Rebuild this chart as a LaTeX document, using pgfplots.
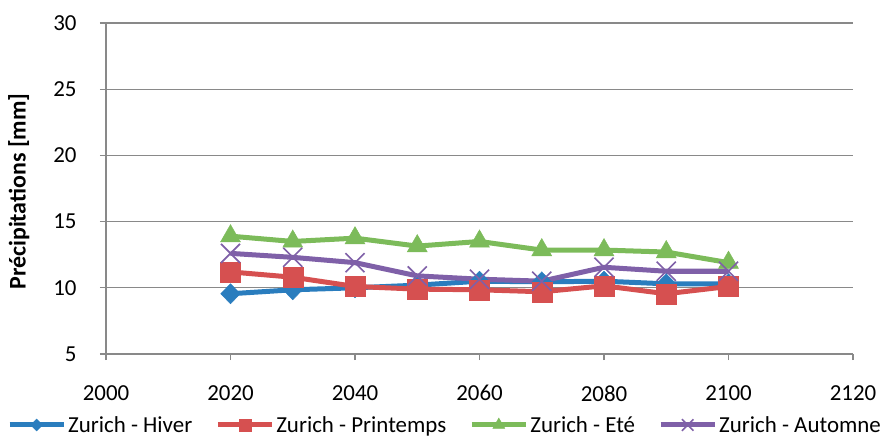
\documentclass[border=0pt]{standalone}
\usepackage{pgfplots}
\pgfplotsset{compat=1.18}
\usepackage{fontspec}
\setmainfont{Carlito}
\definecolor{cblue}{HTML}{2A7DBE}
\definecolor{cred}{HTML}{D65050}
\definecolor{cgreen}{HTML}{7CBB5A}
\definecolor{cpurple}{HTML}{7F60A8}
\definecolor{cgrid}{HTML}{898989}
\begin{document}
\begin{tikzpicture}[x=1bp,y=1bp]
\begin{axis}[
  at={(0,0)}, anchor=south west,
  scale only axis,
  width=747bp, height=331bp,
  xmin=2000, xmax=2120, ymin=5, ymax=30,
  xtick={2000,2020,...,2120},
  ytick={5,10,...,30},
  axis x line*=bottom, axis y line*=left,
  axis line style={cgrid, line width=1.2bp},
  tick style={cgrid, line width=1.2bp},
  tick align=outside,
  major tick length=6bp,
  ymajorgrids,
  grid style={cgrid, line width=1.2bp},
  x tick label style={/pgf/number format/1000 sep={}, yshift=-22bp},
  y tick label style={xshift=-20bp},
  /pgf/number format/assume math mode=true,
  tick label style={font=\fontsize{23}{25}\selectfont, black},
  ylabel={\textbf{Précipitations [mm]}},
  ylabel style={font=\fontsize{24}{26}\selectfont, at={(axis description cs:0,0.5)}, anchor=south, yshift=73bp, xshift=-3bp},
  every axis plot/.append style={line width=5bp},
  legend columns=4,
  legend style={draw=none, at={(axis description cs:0.4538,-0.2145)}, anchor=center, font=\fontsize{23}{25}\selectfont,
    inner xsep=0bp,
    /tikz/every even column/.append style={column sep=21bp},
    /tikz/every odd column/.append style={column sep=0bp}},
  legend cell align=left,
  legend image code/.code={\draw[#1, every mark/.append style={scale=0.6}] (0bp,0bp) -- (27bp,0bp) plot coordinates {(27bp,0bp)} -- (54bp,0bp);},
  clip=false,
]
\addplot[cblue, mark=diamond*, mark size=10bp, mark options={line width=0.5pt, xscale=1.3}] coordinates {
(2020,9.55) (2030,9.85) (2040,10.0) (2050,10.2) (2060,10.5) (2070,10.45) (2080,10.5) (2090,10.3) (2100,10.3)};
\addlegendentry{Zurich - Hiver}
\addplot[cred, mark=square*, mark size=10bp, mark options={line width=0.5pt}] coordinates {
(2020,11.2) (2030,10.8) (2040,10.1) (2050,9.9) (2060,9.85) (2070,9.7) (2080,10.15) (2090,9.55) (2100,10.1)};
\addlegendentry{Zurich - Printemps}
\addplot[cgreen, mark=triangle*, mark size=11.5bp, mark options={line width=0.5pt}] coordinates {
(2020,13.9) (2030,13.5) (2040,13.75) (2050,13.15) (2060,13.5) (2070,12.85) (2080,12.85) (2090,12.7) (2100,11.9)};
\addlegendentry{Zurich - Eté}
\addplot[cpurple, mark=x, mark size=13.5bp, mark options={line width=1.6bp}] coordinates {
(2020,12.6) (2030,12.3) (2040,11.9) (2050,10.9) (2060,10.65) (2070,10.5) (2080,11.55) (2090,11.25) (2100,11.25)};
\addlegendentry{Zurich - Automne}
\end{axis}
\pgfresetboundingbox
\path[use as bounding box] (-106bp,-85bp) rectangle (783bp,354bp);
\end{tikzpicture}
\end{document}
